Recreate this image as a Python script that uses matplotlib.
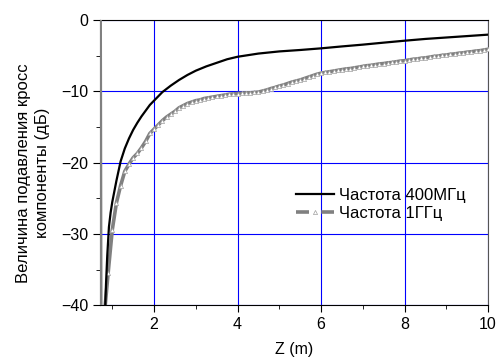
import numpy as np
import matplotlib
matplotlib.use('Agg')
import matplotlib.pyplot as plt
from matplotlib.ticker import MultipleLocator

plt.rcParams['font.family'] = ['Liberation Sans', 'DejaVu Sans']

# 400 MHz curve
z_400 = [0.80, 0.82, 0.85, 0.88, 0.92, 0.96, 1.0, 1.1, 1.2, 1.3, 1.4, 1.5, 1.6, 1.7,
         1.8, 1.9, 2.0, 2.2, 2.4, 2.6, 2.8, 3.0, 3.25, 3.5, 3.75, 4.0, 4.5, 5.0,
         5.5, 6.0, 6.5, 7.0, 7.5, 8.0, 8.5, 9.0, 9.5, 10.0]
db_400 = [-45, -42, -37, -33, -29, -27, -25.5, -22.5, -19.8, -18.0, -16.6, -15.4,
          -14.4, -13.5, -12.7, -11.9, -11.3, -10.1, -9.2, -8.4, -7.7, -7.1, -6.5,
          -6.0, -5.5, -5.15, -4.7, -4.4, -4.2, -3.97, -3.7, -3.45, -3.17, -2.9,
          -2.65, -2.45, -2.25, -2.05]

# 1 GHz curve (spike at start, then sampled every 0.1 m)
z_1g_start = [0.71, 0.73]
db_1g_start = [0, -60]
z_1g_main = np.round(np.arange(0.8, 10.001, 0.1), 1)
db_1g_main = [-42, -35.5, -29.4, -25.6, -23.2, -21.2, -20.2, -19.3, -18.7, -17.9,
              -17.0, -15.9, -15.3, -14.7, -14.1, -13.6, -13.2, -12.8, -12.3, -12.0,
              -11.7, -11.5, -11.3, -11.2, -11.0, -10.9, -10.8, -10.7, -10.6, -10.5,
              -10.4, -10.35, -10.3, -10.25, -10.2, -10.2, -10.15, -10.1, -9.95, -9.8,
              -9.6, -9.45, -9.25, -9.1, -8.9, -8.7, -8.55, -8.4, -8.2, -8.0,
              -7.8, -7.6, -7.45, -7.35, -7.25, -7.15, -7.05, -6.95, -6.85, -6.8,
              -6.7, -6.6, -6.5, -6.4, -6.35, -6.25, -6.15, -6.1, -6.0, -5.95,
              -5.85, -5.75, -5.7, -5.6, -5.5, -5.45, -5.35, -5.3, -5.2, -5.1,
              -5.05, -4.95, -4.9, -4.8, -4.75, -4.65, -4.6, -4.5, -4.45, -4.35,
              -4.3, -4.2, -4.1]

z_1g = list(z_1g_start) + list(z_1g_main)
db_1g = db_1g_start + db_1g_main

fig = plt.figure(figsize=(4.97, 3.6), dpi=100)
ax = fig.add_axes([0.2012, 0.1514, 0.7808, 0.793])

ax.plot(z_1g, db_1g, color='#808080', lw=2.6, zorder=3)
ax.plot(z_1g_main, db_1g_main, ls='none', marker='^', ms=3, mfc='white',
        mec='#a0a0a0', mew=0.5, zorder=4)
ax.plot(z_400, db_400, color='black', lw=1.6, zorder=5, label='Частота 400МГц')

# legend proxy for the gray line with marker
ax.plot([], [], color='#808080', lw=2.6, ls=(0, (3.6, 3.4)), marker='^', ms=3,
        mfc='white', mec='#a0a0a0', mew=0.5, label='Частота 1ГГц')

ax.set_xlim(0.706, 10)
ax.set_ylim(-40, 0)
ax.xaxis.set_major_locator(MultipleLocator(2))
ax.xaxis.set_minor_locator(MultipleLocator(1))
ax.yaxis.set_major_locator(MultipleLocator(10))
ax.yaxis.set_minor_locator(MultipleLocator(5))
ax.tick_params(which='major', direction='out', length=5, labelsize=11.5)
ax.tick_params(which='minor', direction='out', length=3)
ax.grid(True, which='major', color='#0000ff', lw=0.8)
ax.set_axisbelow(True)
ax.spines['right'].set_color('#555555')

ax.set_xlabel('Z (m)', fontsize=11.5, labelpad=7)
ax.set_ylabel('Величина подавления кросс\nкомпоненты (дБ)', fontsize=12,
              linespacing=1.35)
ax.yaxis.set_label_coords(-0.129, 0.464)

ax.legend(loc='upper left', bbox_to_anchor=(0.505, 0.412), frameon=False,
          fontsize=12, handlelength=2.3, handletextpad=0.3, labelspacing=0.2,
          borderaxespad=0, borderpad=0)

fig.savefig('out.png', dpi=100)
